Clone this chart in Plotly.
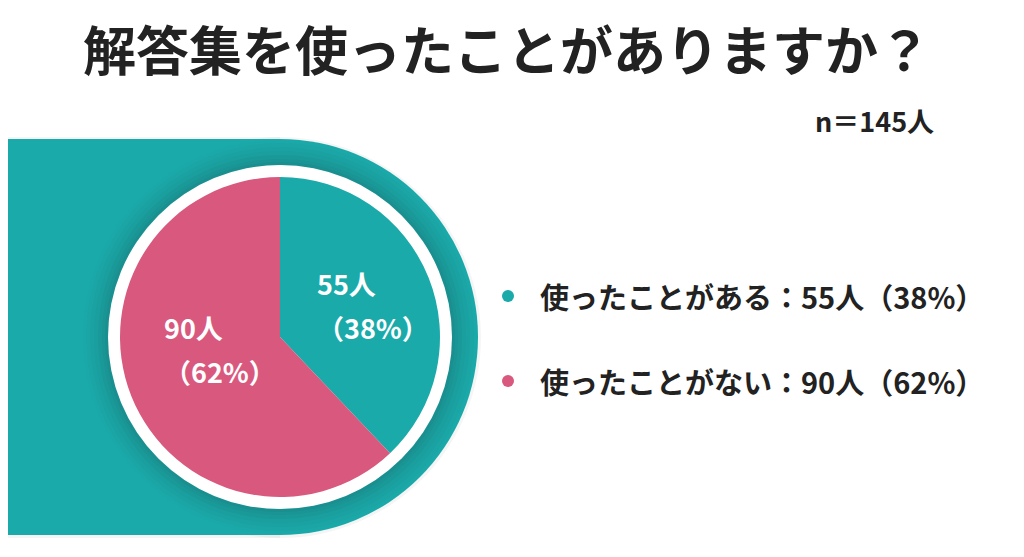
import plotly.graph_objects as go

# データ
labels = ["使ったことがある", "使ったことがない"]
values = [55, 90]
colors = ["#1BAAAA", "#D9587E"]
n_total = 145
title_text = "解答集を使ったことがありますか？"

W, H = 1024, 557
OFF = 8  # ページ余白の補正
FONT = "Noto Sans CJK JP"
teal = "#1BAAAA"
total = sum(values)
pcts = [round(v / total * 100) for v in values]

fig = go.Figure()

fig.add_trace(go.Pie(
    labels=labels, values=values, sort=False, direction="clockwise", rotation=0,
    marker=dict(colors=colors, line=dict(width=0)),
    textinfo="none",
    domain=dict(x=[(120 - OFF) / W, (440 - OFF) / W],
                y=[(H + OFF - 497) / H, (H + OFF - 177) / H]),
    showlegend=False, hoverinfo="label+value+percent",
))

# 背景の形 (px座標)
cx, cy, R = 280, 337, 198
shapes = []
# 外側の薄い影
shapes.append(dict(type="rect", xref="x", yref="y", layer="below",
                   x0=-10, x1=cx, y0=cy - R - 2, y1=cy + R + 3,
                   fillcolor="rgba(0,0,0,0.04)", line=dict(width=0)))
shapes.append(dict(type="circle", xref="x", yref="y", layer="below",
                   x0=cx - R - 3, x1=cx + R + 3, y0=cy - R - 2, y1=cy + R + 3,
                   fillcolor="rgba(0,0,0,0.04)", line=dict(width=0)))
shapes.append(dict(type="rect", xref="x", yref="y", layer="below",
                   x0=-10, x1=cx, y0=cy - R, y1=cy + R,
                   fillcolor=teal, line=dict(width=0)))
shapes.append(dict(type="circle", xref="x", yref="y", layer="below",
                   x0=cx - R, x1=cx + R, y0=cy - R, y1=cy + R,
                   fillcolor=teal, line=dict(width=0)))
# 白い円のまわりの影
for r, a in [(197, 0.02), (194, 0.03), (190, 0.04), (186, 0.05), (182, 0.06), (178, 0.07), (175, 0.08)]:
    shapes.append(dict(type="circle", xref="x", yref="y", layer="below",
                       x0=cx - r, x1=cx + r, y0=cy - r, y1=cy + r,
                       fillcolor=f"rgba(30,90,90,{a})", line=dict(width=0)))
shapes.append(dict(type="circle", xref="x", yref="y", layer="below",
                   x0=cx - 172, x1=cx + 172, y0=cy - 172, y1=cy + 172,
                   fillcolor="white", line=dict(width=0)))

annotations = []

# 円グラフ内のラベル
label_pos = [(315, 283), (162, 327)]
for (lx, ly), v, p in zip(label_pos, values, pcts):
    annotations.append(dict(x=lx, y=ly, xref="x", yref="y", xanchor="left", yanchor="middle",
                            text=f"{v}人", showarrow=False,
                            font=dict(family=FONT, size=27, color="white", weight="bold")))
    annotations.append(dict(x=lx, y=ly + 44, xref="x", yref="y", xanchor="left", yanchor="middle",
                            text=f"（{p}%）", showarrow=False,
                            font=dict(family=FONT, size=27, color="white", weight="bold")))

# 凡例
for i, (lab, v, p, c) in enumerate(zip(labels, values, pcts, colors)):
    y = 296 + i * 85
    shapes.append(dict(type="circle", xref="x", yref="y",
                       x0=502, x1=514, y0=y - 6, y1=y + 6,
                       fillcolor=c, line=dict(width=0)))
    annotations.append(dict(x=538, y=y, xref="x", yref="y", xanchor="left", yanchor="middle",
                            text=f"{lab}：{v}人（{p}%）", showarrow=False,
                            font=dict(family=FONT, size=29, color="#222222", weight="bold")))

annotations.append(dict(x=507, y=48, xref="x", yref="y", xanchor="center", yanchor="middle",
                        text=title_text, showarrow=False,
                        font=dict(family=FONT, size=53, color="#222222", weight="bold")))
annotations.append(dict(x=936, y=120, xref="x", yref="y", xanchor="right", yanchor="middle",
                        text=f"n＝{n_total}人", showarrow=False,
                        font=dict(family=FONT, size=27, color="#222222", weight="bold")))

fig.update_layout(
    width=W, height=H, margin=dict(l=0, r=0, t=0, b=0),
    paper_bgcolor="white", plot_bgcolor="white",
    xaxis=dict(range=[OFF, W + OFF], visible=False, fixedrange=True),
    yaxis=dict(range=[H + OFF, OFF], visible=False, fixedrange=True),
    shapes=shapes, annotations=annotations,
)

fig.write_html("out.html")
